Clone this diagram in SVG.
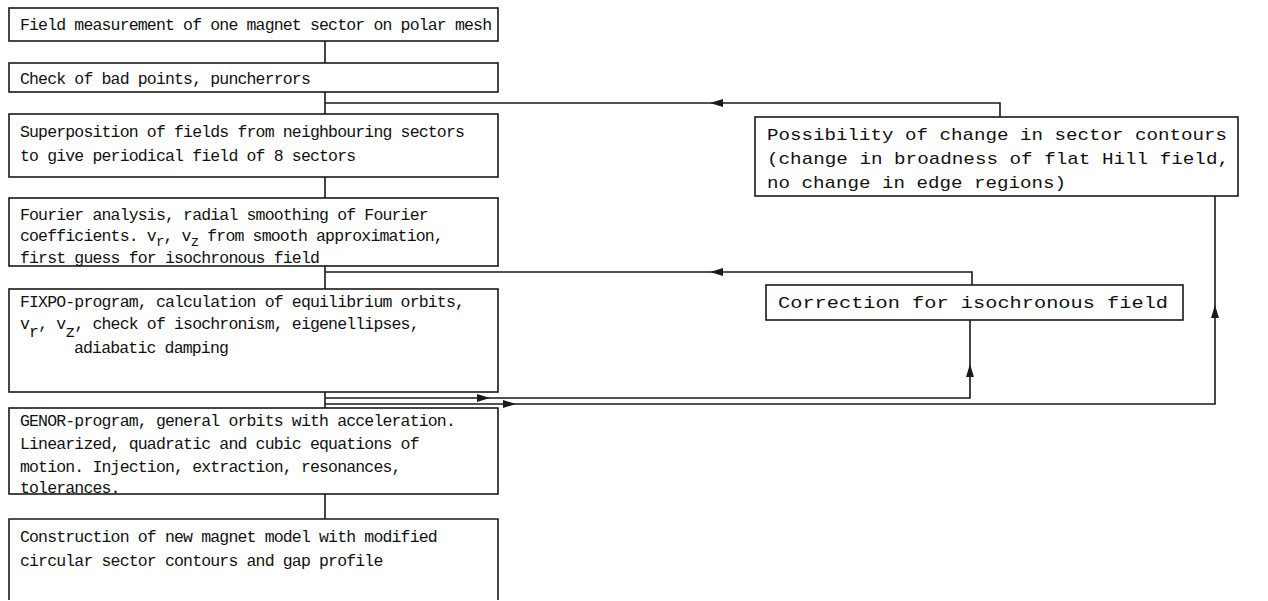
<svg xmlns="http://www.w3.org/2000/svg" xmlns:xlink="http://www.w3.org/1999/xlink" width="1268" height="601" viewBox="0 0 1268 601">
<style>
  .box{fill:none;stroke:#1a1a1a;stroke-width:1.6}
  .ln{fill:none;stroke:#1a1a1a;stroke-width:1.6}
  .t{font-family:"Liberation Mono","DejaVu Sans Mono",monospace;font-size:16.5px;letter-spacing:-0.84px;fill:#111}
  .tr{font-family:"Liberation Mono","DejaVu Sans Mono",monospace;font-size:17px;fill:#111}
  .sub{font-size:14px}
  .ah{fill:#1a1a1a}
</style>
<defs>
  <path id="ah" d="M0,0 L-13,-4 L-13,4 Z"/>
</defs>
<rect width="1268" height="601" fill="#fff"/>
<g id="connectors">
  <path class="ln" d="M325,41 V63 M325,92 V114 M325,177 V198 M325,266 V289 M325,392 V408 M325,494 V519"/>
  <path class="ln" d="M1000,117 V103 H325"/>
  <use href="#ah" class="ah" transform="translate(710,103) rotate(180)"/>
  <path class="ln" d="M972,285 V272 H325"/>
  <use href="#ah" class="ah" transform="translate(710,272) rotate(180)"/>
  <path class="ln" d="M325,398 H970 V320"/>
  <use href="#ah" class="ah" transform="translate(490,398)"/>
  <use href="#ah" class="ah" transform="translate(970,364) rotate(-90)"/>
  <path class="ln" d="M325,404 H1215 V196"/>
  <use href="#ah" class="ah" transform="translate(516,404)"/>
  <use href="#ah" class="ah" transform="translate(1215,305) rotate(-90)"/>
</g>
<g id="n1">
  <rect class="box" x="9" y="8" width="489" height="33"/>
  <text class="t" x="20" y="30">Field measurement of one magnet sector on polar mesh</text>
</g>
<g id="n2">
  <rect class="box" x="9" y="63" width="489" height="29"/>
  <text class="t" x="20" y="84">Check of bad points, puncherrors</text>
</g>
<g id="n3">
  <rect class="box" x="9" y="114" width="489" height="63"/>
  <text class="t" x="20" y="137">Superposition of fields from neighbouring sectors</text>
  <text class="t" x="20" y="161">to give periodical field of 8 sectors</text>
</g>
<g id="n4">
  <rect class="box" x="9" y="198" width="489" height="68"/>
  <text class="t" x="20" y="220">Fourier analysis, radial smoothing of Fourier</text>
  <text class="t" x="20" y="241">coefficients. v<tspan dy="5" class="sub">r</tspan><tspan dy="-5">, v</tspan><tspan dy="5" class="sub">z</tspan><tspan dy="-5"> from smooth approximation,</tspan></text>
  <text class="t" x="20" y="263">first guess for isochronous field</text>
</g>
<g id="n5">
  <rect class="box" x="9" y="289" width="489" height="103"/>
  <text class="t" x="20" y="307">FIXPO-program, calculation of equilibrium orbits,</text>
  <text class="t" x="20" y="329">v<tspan dy="8">r</tspan><tspan dy="-8">, v</tspan><tspan dy="8">z</tspan><tspan dy="-8">, check of isochronism, eigenellipses,</tspan></text>
  <text class="t" x="74" y="353">adiabatic damping</text>
</g>
<g id="n6">
  <rect class="box" x="9" y="408" width="489" height="86"/>
  <text class="t" x="20" y="426">GENOR-program, general orbits with acceleration.</text>
  <text class="t" x="20" y="449">Linearized, quadratic and cubic equations of</text>
  <text class="t" x="20" y="472">motion. Injection, extraction, resonances,</text>
  <text class="t" x="20" y="493">tolerances.</text>
</g>
<g id="n7">
  <path class="box" d="M9,600 V519 H498 V600"/>
  <text class="t" x="20" y="542">Construction of new magnet model with modified</text>
  <text class="t" x="20" y="566">circular sector contours and gap profile</text>
</g>
<g id="n8">
  <rect class="box" x="755" y="117" width="483" height="79"/>
  <text class="tr" x="767" y="140" textLength="460" lengthAdjust="spacingAndGlyphs">Possibility of change in sector contours</text>
  <text class="tr" x="767" y="164" textLength="462" lengthAdjust="spacingAndGlyphs">(change in broadness of flat Hill field,</text>
  <text class="tr" x="767" y="188" textLength="299" lengthAdjust="spacingAndGlyphs">no change in edge regions)</text>
</g>
<g id="n9">
  <rect class="box" x="766" y="285" width="417" height="35"/>
  <text class="tr" x="778" y="308" textLength="390" lengthAdjust="spacingAndGlyphs">Correction for isochronous field</text>
</g>
</svg>
